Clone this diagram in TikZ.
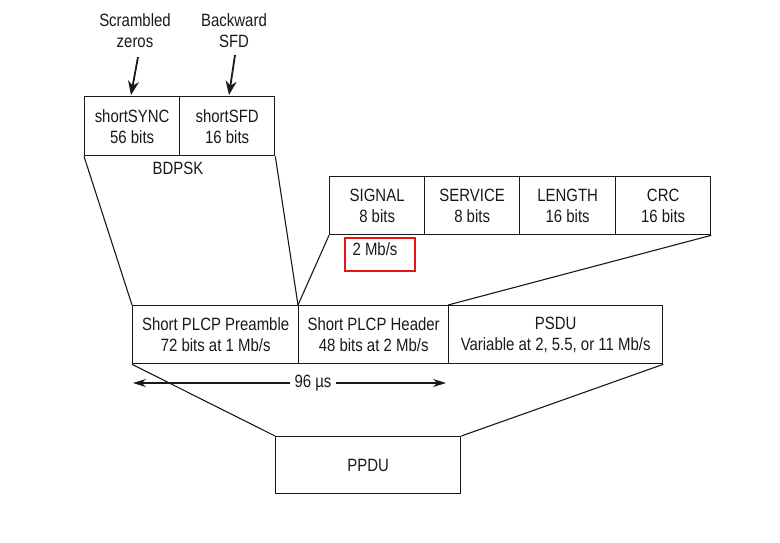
\documentclass[tikz,border=0pt]{standalone}
\usepackage{fontspec}
\setmainfont[FakeStretch=0.84]{Liberation Sans}
\usetikzlibrary{arrows.meta}
\definecolor{ink}{RGB}{25,25,25}
\definecolor{redbox}{RGB}{230,20,20}
\tikzset{
  field/.style={draw=ink, line width=1.3pt, minimum height=58pt, inner sep=0pt, align=center, font=\fontsize{17.8}{21}\selectfont, text=ink, anchor=north west},
  lbl/.style={align=center, font=\fontsize{17.8}{21}\selectfont, text=ink, inner sep=0pt},
  link/.style={draw=ink, line width=1.1pt},
  pointer/.style={draw=ink, line width=1.8pt, -{Stealth[length=14pt,width=11pt]}},
}
\begin{document}
\begin{tikzpicture}[x=1pt,y=-1pt]
\useasboundingbox (0,0) rectangle (780,542);
% top fields
\node[field, minimum width=95pt, minimum height=59pt] (sync) at (84,96) {shortSYNC\\56 bits};
\node[field, minimum width=95pt, minimum height=59pt] (sfd) at (179,96) {shortSFD\\16 bits};
\node[lbl] (zeros) at (135,31) {Scrambled\\zeros};
\node[lbl] (bsfd) at (234,31) {Backward\\SFD};
\coordinate (zt) at (138,57);
\coordinate (bt) at (235,55);
\draw[pointer] (zt) -- (131,95);
\draw[pointer] (bt) -- (229,95);
\node[lbl] (bdpsk) at (178,168) {BDPSK};
% header fields
\node[field, minimum width=95pt] (signal) at (329,176) {SIGNAL\\8 bits};
\node[field, minimum width=95pt] (service) at (424,176) {SERVICE\\8 bits};
\node[field, minimum width=96pt] (length) at (519,176) {LENGTH\\16 bits};
\node[field, minimum width=95pt] (crc) at (615,176) {CRC\\16 bits};
\node[draw=redbox, line width=1.5pt, minimum width=70pt, minimum height=33pt, anchor=north west, inner sep=0pt] (red) at (344,237) {};
\node[lbl] (rate) at (375,249) {2 Mb/s};
% middle fields
\node[field, minimum width=166pt] (pre) at (132,305) {Short PLCP Preamble\\72 bits at 1 Mb/s};
\node[field, minimum width=150pt] (hdr) at (298,305) {Short PLCP Header\\48 bits at 2 Mb/s};
\node[field, minimum width=214pt] (psdu) at (448,305) {PSDU\\Variable at 2, 5.5, or 11 Mb/s};
% bottom
\node[field, minimum width=185pt, minimum height=57pt] (ppdu) at (275,436) {PPDU};
% links
\draw[link] (sync.south west) -- (pre.north west);
\draw[link] (sfd.south east) -- (hdr.north west);
\draw[link] (signal.south west) -- (hdr.north west);
\draw[link] (crc.south east) -- (psdu.north west);
\draw[link] (pre.south west) -- (ppdu.north west);
\draw[link] (psdu.south east) -- (ppdu.north east);
% duration
\node[lbl, fill=white, inner sep=4pt] (dur) at (313,383) {96 µs};
\coordinate (dl) at (133,383);
\coordinate (dr) at (446,383);
\draw[ink, line width=1.2pt, -{Stealth[length=13pt,width=8pt]}] (dur.west) -- (dl);
\draw[ink, line width=1.2pt, -{Stealth[length=13pt,width=8pt]}] (dur.east) -- (dr);
\end{tikzpicture}
\end{document}
